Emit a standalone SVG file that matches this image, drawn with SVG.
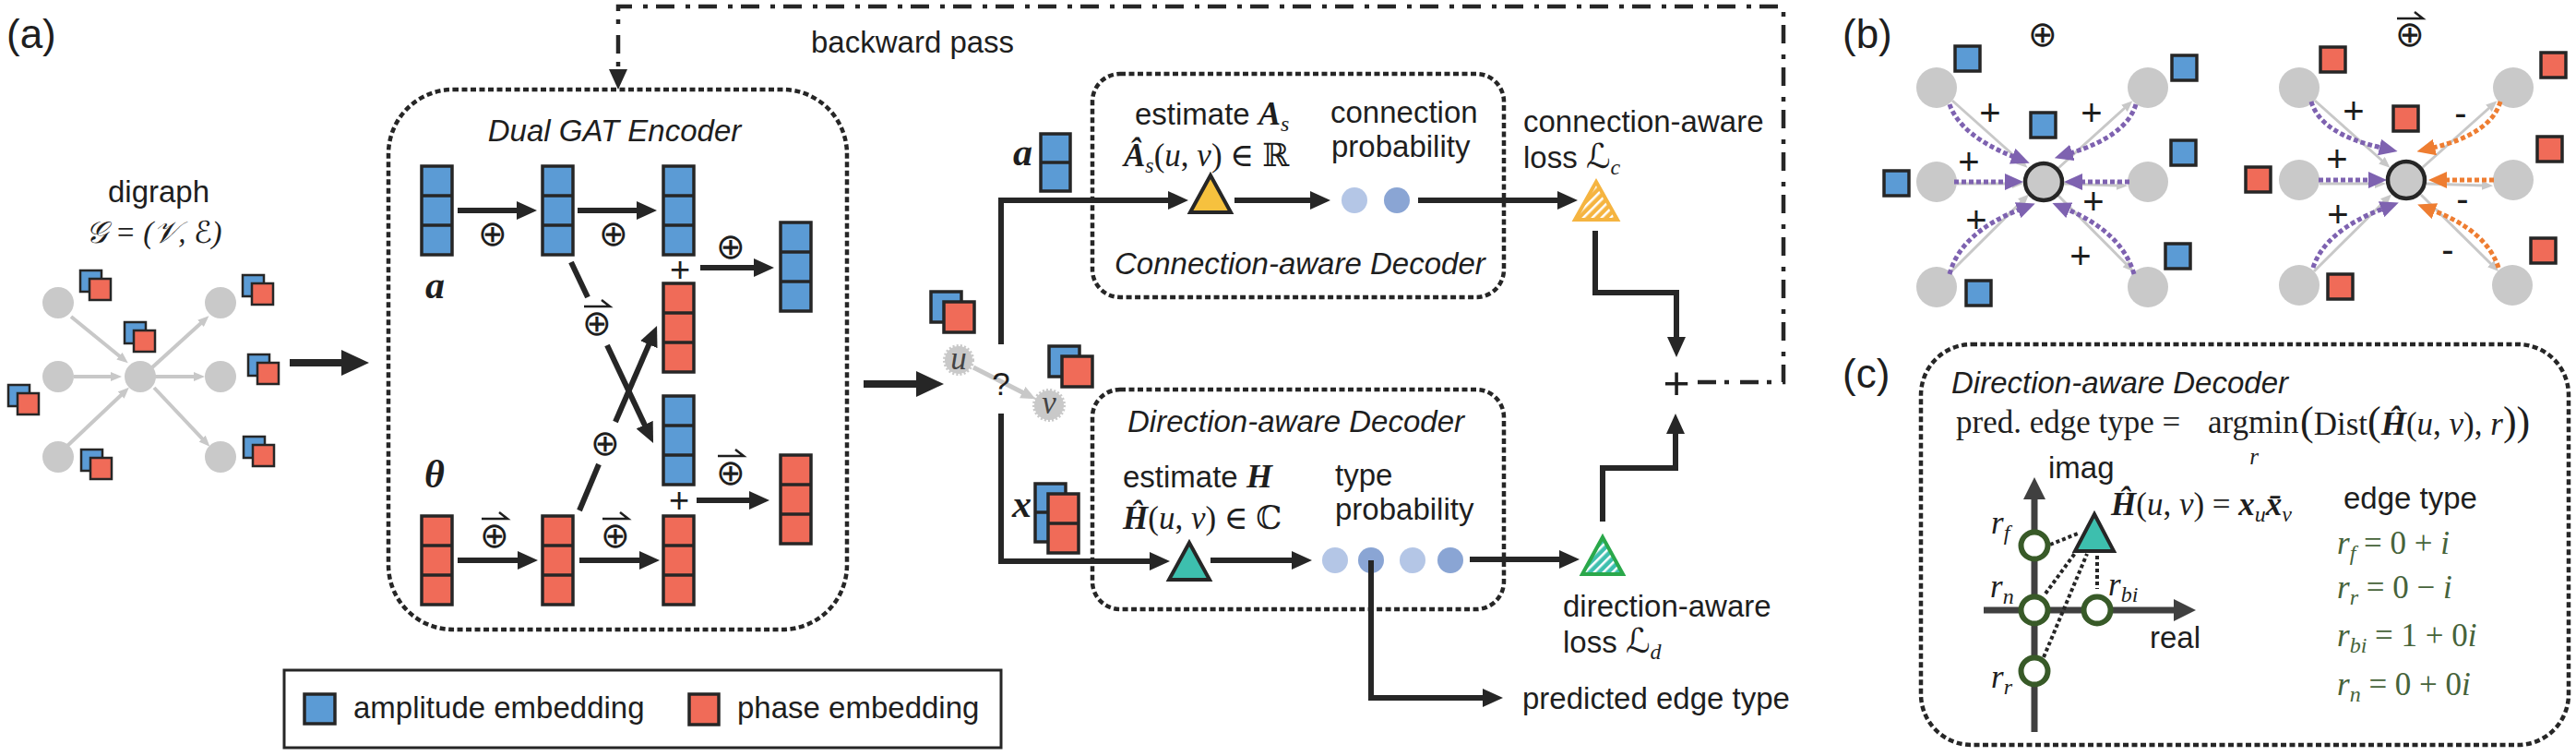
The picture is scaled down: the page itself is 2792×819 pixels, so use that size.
<svg xmlns="http://www.w3.org/2000/svg" xmlns:xlink="http://www.w3.org/1999/xlink" width="2792" height="819" viewBox="0 0 2792 819">
<defs>
<style>
.t{font-family:"Liberation Sans",Arial,sans-serif;font-size:33px;fill:#1e1e1e}
.ti{font-family:"Liberation Sans",Arial,sans-serif;font-size:33px;font-style:italic;fill:#1e1e1e}
.m{font-family:"Liberation Serif","DejaVu Serif","DejaVu Sans",serif;font-size:35px;fill:#1e1e1e}
.mi{font-style:italic}
.mb{font-weight:bold;font-style:italic}
.sub{font-size:24px}
.lab{font-family:"Liberation Sans",Arial,sans-serif;font-size:44px;fill:#1e1e1e}
.op{font-family:"DejaVu Sans",sans-serif;font-size:38px;fill:#1e1e1e}
.pl{font-family:"Liberation Sans",Arial,sans-serif;font-size:40px;fill:#1e1e1e;text-anchor:middle}
.grn{fill:#46633a}
.amp{fill:#5b9bd5;stroke:#262626;stroke-width:3.5}
.pha{fill:#f06b58;stroke:#262626;stroke-width:3.5}
.ampS{fill:#5b9bd5;stroke:#262626;stroke-width:2.5}
.phaS{fill:#f06b58;stroke:#262626;stroke-width:2.5}
.div{stroke:#262626;stroke-width:3.5}
.box{fill:none;stroke:#262626;stroke-width:4.5;stroke-dasharray:6 3.5}
.conn{fill:none;stroke:#262626;stroke-width:6}
.big{fill:none;stroke:#262626;stroke-width:8}
.arr{fill:none;stroke:#1e1e1e;stroke-width:2.5}
.gnode{fill:#c9c9c9}
.cnode{fill:#c9c9c9;stroke:#262626;stroke-width:4.5}
.gedge{fill:none;stroke:#c8c8c8;stroke-width:4}
.gedge3{fill:none;stroke:#c8c8c8;stroke-width:3}
.pur{fill:none;stroke:#7e62b0;stroke-width:5;stroke-dasharray:5 3}
.ora{fill:none;stroke:#ee7d31;stroke-width:5;stroke-dasharray:5 3}
.ring{fill:#fff;stroke:#385a28;stroke-width:6}
.dot{fill:none;stroke:#262626;stroke-width:4;stroke-dasharray:4 3}
.axis{fill:none;stroke:#404040;stroke-width:7}
</style>
<marker id="ah" viewBox="0 0 22 20" refX="2" refY="10" markerWidth="22" markerHeight="20" markerUnits="userSpaceOnUse" orient="auto"><path d="M0,0 L22,10 L0,20 z" fill="#262626"/></marker>
<marker id="ahb" viewBox="0 0 30 28" refX="2" refY="14" markerWidth="30" markerHeight="28" markerUnits="userSpaceOnUse" orient="auto"><path d="M0,0 L30,14 L0,28 z" fill="#262626"/></marker>
<marker id="ahg" viewBox="0 0 12 10" refX="2" refY="5" markerWidth="12" markerHeight="10" markerUnits="userSpaceOnUse" orient="auto"><path d="M0,0 L12,5 L0,10 z" fill="#c8c8c8"/></marker>
<marker id="ahg2" viewBox="0 0 16 14" refX="2" refY="7" markerWidth="16" markerHeight="14" markerUnits="userSpaceOnUse" orient="auto"><path d="M0,0 L16,7 L0,14 z" fill="#c8c8c8"/></marker>
<marker id="ahp" viewBox="0 0 20 18" refX="2" refY="9" markerWidth="20" markerHeight="18" markerUnits="userSpaceOnUse" orient="auto"><path d="M0,0 L20,9 L0,18 z" fill="#7e62b0"/></marker>
<marker id="aho" viewBox="0 0 20 18" refX="2" refY="9" markerWidth="20" markerHeight="18" markerUnits="userSpaceOnUse" orient="auto"><path d="M0,0 L20,9 L0,18 z" fill="#ee7d31"/></marker>
<marker id="ahax" viewBox="0 0 24 24" refX="2" refY="12" markerWidth="24" markerHeight="24" markerUnits="userSpaceOnUse" orient="auto"><path d="M0,0 L24,12 L0,24 z" fill="#404040"/></marker>
<pattern id="hy" patternUnits="userSpaceOnUse" width="7" height="7" patternTransform="rotate(45)"><rect width="7" height="7" fill="#f5b440"/><rect width="2.5" height="7" fill="#fff"/></pattern>
<pattern id="hg" patternUnits="userSpaceOnUse" width="7" height="7" patternTransform="rotate(45)"><rect width="7" height="7" fill="#3dbfae"/><rect width="2.5" height="7" fill="#fff"/></pattern>
<g id="colA"><rect x="0" y="0" width="33" height="96" class="amp"/><line x1="0" y1="32" x2="33" y2="32" class="div"/><line x1="0" y1="64" x2="33" y2="64" class="div"/></g>
<g id="colP"><rect x="0" y="0" width="33" height="96" class="pha"/><line x1="0" y1="32" x2="33" y2="32" class="div"/><line x1="0" y1="64" x2="33" y2="64" class="div"/></g>
<g id="pairS"><rect x="0" y="0" width="23" height="23" class="ampS"/><rect x="10" y="9" width="23" height="23" class="phaS"/></g>
<g id="pairB"><rect x="0" y="0" width="33" height="33" class="amp"/><rect x="14" y="11" width="33" height="33" class="pha"/></g>
<rect id="sqA" x="0" y="0" width="27" height="27" class="amp"/>
<rect id="sqP" x="0" y="0" width="27" height="27" class="pha"/>
</defs>

<rect width="2792" height="819" fill="#fff"/>

<!-- panel labels -->
<text class="lab" x="7" y="52">(a)</text>
<text class="lab" x="1997" y="52">(b)</text>
<text class="lab" x="1997" y="420">(c)</text>

<!-- ===== (a) input digraph ===== -->
<g id="digraph">
<text class="t" x="172" y="219" text-anchor="middle">digraph</text>
<text class="m mi" x="167" y="263" text-anchor="middle" style="font-size:33px">𝒢 = (𝒱, ℰ)</text>
<g>
<path class="gedge" d="M77,343 L131,387" marker-end="url(#ahg)"/>
<path class="gedge" d="M80,408 L122,408" marker-end="url(#ahg)"/>
<path class="gedge" d="M73,483 L132.6,426.7" marker-end="url(#ahg)"/>
<path class="gedge" d="M165,398 L219,349" marker-end="url(#ahg)"/>
<path class="gedge" d="M168,408 L212,408" marker-end="url(#ahg)"/>
<path class="gedge" d="M167,420 L220.5,476.6" marker-end="url(#ahg)"/>
</g>
<circle class="gnode" cx="63" cy="328" r="17"/>
<circle class="gnode" cx="63" cy="408" r="17"/>
<circle class="gnode" cx="63" cy="495" r="17"/>
<circle class="gnode" cx="152" cy="408" r="17"/>
<circle class="gnode" cx="239" cy="328" r="17"/>
<circle class="gnode" cx="239" cy="408" r="17"/>
<circle class="gnode" cx="239" cy="495" r="17"/>
<use xlink:href="#pairS" x="87" y="293"/>
<use xlink:href="#pairS" x="135" y="349"/>
<use xlink:href="#pairS" x="9" y="417"/>
<use xlink:href="#pairS" x="88" y="487"/>
<use xlink:href="#pairS" x="263" y="298"/>
<use xlink:href="#pairS" x="269" y="384"/>
<use xlink:href="#pairS" x="264" y="473"/>
</g>

<!-- ===== encoder ===== -->
<g id="encoder">
<rect class="box" x="421" y="97" width="497" height="585" rx="70" ry="70"/>
<text class="ti" x="666" y="153" text-anchor="middle">Dual GAT Encoder</text>
<use xlink:href="#colA" x="457" y="180"/>
<use xlink:href="#colA" x="588" y="180"/>
<use xlink:href="#colA" x="719" y="180"/>
<use xlink:href="#colA" x="846" y="241"/>
<use xlink:href="#colP" x="719" y="307"/>
<use xlink:href="#colA" x="719" y="429"/>
<use xlink:href="#colP" x="457" y="559"/>
<use xlink:href="#colP" x="588" y="559"/>
<use xlink:href="#colP" x="719" y="559"/>
<use xlink:href="#colP" x="846" y="493"/>
<text class="m mb" x="461" y="323" style="font-size:42px">a</text>
<text class="m mb" x="460" y="528" style="font-size:42px">θ</text>
<text class="pl" x="737" y="305" style="font-size:38px">+</text>
<text class="pl" x="736" y="555" style="font-size:38px">+</text>
<text class="op" x="534" y="266" text-anchor="middle">⊕</text>
<text class="op" x="665" y="266" text-anchor="middle">⊕</text>
<text class="op" x="792" y="280" text-anchor="middle">⊕</text>
<text class="op" x="656" y="493" text-anchor="middle">⊕</text>
<text class="op" x="647" y="363" text-anchor="middle">⊕</text>
<path class="arr" d="M633,332 H661 L652,325"/>
<text class="op" x="536" y="593" text-anchor="middle">⊕</text>
<path class="arr" d="M522,562 H550 L541,555"/>
<text class="op" x="667" y="593" text-anchor="middle">⊕</text>
<path class="arr" d="M653,562 H681 L672,555"/>
<text class="op" x="792" y="525" text-anchor="middle">⊕</text>
<path class="arr" d="M778,494 H806 L797,487"/>
</g>

<!-- ===== connection-aware decoder ===== -->
<g id="conn-decoder">
<rect class="box" x="1184" y="80" width="446" height="242" rx="30" ry="30"/>
<text class="t" x="1230" y="135">estimate <tspan class="m mb" style="font-size:36px">A</tspan><tspan class="m mi sub" dy="7">s</tspan></text>
<text class="m" x="1218" y="180"><tspan class="mb">Â</tspan><tspan class="mi sub" dy="7">s</tspan><tspan dy="-7">(</tspan><tspan class="mi">u</tspan>, <tspan class="mi">v</tspan>) ∈ ℝ</text>
<path d="M1312,190 L1334,230 L1290,230 z" fill="#f6c13e" stroke="#262626" stroke-width="4"/>
<text class="t" x="1442" y="133">connection</text>
<text class="t" x="1443" y="170">probability</text>
<circle cx="1468" cy="217" r="14" fill="#b4c6e6"/>
<circle cx="1514" cy="217" r="14" fill="#8aa5d4"/>
<text class="ti" x="1208" y="297">Connection-aware Decoder</text>
</g>

<!-- ===== direction-aware decoder ===== -->
<g id="dir-decoder">
<rect class="box" x="1184" y="422" width="446" height="238" rx="30" ry="30"/>
<text class="ti" x="1222" y="468">Direction-aware Decoder</text>
<text class="t" x="1217" y="528">estimate <tspan class="m mb" style="font-size:36px">H</tspan></text>
<text class="m" x="1217" y="573"><tspan class="mb">Ĥ</tspan>(<tspan class="mi">u</tspan>, <tspan class="mi">v</tspan>) ∈ ℂ</text>
<path d="M1289,588 L1311,628 L1267,628 z" fill="#3dbfae" stroke="#262626" stroke-width="4"/>
<text class="t" x="1447" y="526">type</text>
<text class="t" x="1447" y="563">probability</text>
<circle cx="1447" cy="607" r="14" fill="#b4c6e6"/>
<circle cx="1486" cy="607" r="14" fill="#8aa5d4"/>
<circle cx="1531" cy="607" r="14" fill="#b4c6e6"/>
<circle cx="1572" cy="607" r="14" fill="#8aa5d4"/>
</g>

<!-- ===== u, v candidate edge ===== -->
<g id="uv">
<path d="M1055,398 L1110,426" fill="none" stroke="#c8c8c8" stroke-width="5" marker-end="url(#ahg2)"/>
<circle cx="1039" cy="390" r="15" fill="#c9c9c9" stroke="#c9c9c9" stroke-width="4" stroke-dasharray="2 2"/>
<circle cx="1137" cy="439" r="16" fill="#c9c9c9" stroke="#c9c9c9" stroke-width="4" stroke-dasharray="2 2"/>
<text class="m mi" x="1039" y="400" text-anchor="middle" style="fill:#444">u</text>
<text class="m mi" x="1137" y="448" text-anchor="middle" style="fill:#444">v</text>
<text class="t" x="1085" y="428" text-anchor="middle" style="font-size:35px">?</text>
<use xlink:href="#pairB" x="1009" y="316"/>
<use xlink:href="#pairB" x="1137" y="375"/>
</g>

<!-- inputs to decoders -->
<g id="dec-inputs">
<text class="m mb" x="1098" y="179" style="font-size:42px">a</text>
<rect x="1128" y="145" width="32" height="62" class="amp"/>
<line x1="1128" y1="176" x2="1160" y2="176" class="div"/>
<text class="m mb" x="1097" y="560" style="font-size:42px">x</text>
<rect x="1122" y="524" width="33" height="63" class="amp"/>
<line x1="1122" y1="555" x2="1155" y2="555" class="div"/>
<rect x="1136" y="535" width="33" height="64" class="pha"/>
<line x1="1136" y1="567" x2="1169" y2="567" class="div"/>
</g>

<!-- losses -->
<g id="loss-c">
<path d="M1730,197 L1753,238 L1707,238 z" fill="url(#hy)" stroke="#f5b440" stroke-width="4"/>
<text class="t" x="1651" y="143">connection-aware</text>
<text class="t" x="1651" y="182">loss <tspan class="m mi" style="font-size:37px">ℒ</tspan><tspan class="m mi sub" dy="7">c</tspan></text>
</g>
<g id="loss-d">
<path d="M1737,582 L1759,622 L1715,622 z" fill="url(#hg)" stroke="#2aa84a" stroke-width="4"/>
<text class="t" x="1694" y="668">direction-aware</text>
<text class="t" x="1694" y="707">loss <tspan class="m mi" style="font-size:37px">ℒ</tspan><tspan class="m mi sub" dy="7">d</tspan></text>
</g>
<g id="sum"><text class="t" x="1817" y="432" text-anchor="middle" style="font-size:50px">+</text></g>
<g id="predicted"><text class="t" x="1650" y="768">predicted edge type</text></g>
<g id="backward-label"><text class="t" x="879" y="57">backward pass</text></g>

<!-- legend -->
<g id="legend">
<rect x="308" y="726" width="777" height="84" fill="none" stroke="#262626" stroke-width="3"/>
<rect x="330" y="752" width="33" height="32" class="amp"/>
<text class="t" x="383" y="778">amplitude embedding</text>
<rect x="747" y="752" width="32" height="33" class="pha"/>
<text class="t" x="799" y="778">phase embedding</text>
</g>

<!-- ===== connectors (a) ===== -->
<g id="connectors">
<path class="big" d="M314,393 H372" marker-end="url(#ahb)"/>
<path class="big" d="M936,416 H995" marker-end="url(#ahb)"/>
<path class="conn" d="M496,228 H562" marker-end="url(#ah)"/>
<path class="conn" d="M626,228 H692" marker-end="url(#ah)"/>
<path class="conn" d="M759,290 H819" marker-end="url(#ah)"/>
<path class="conn" d="M496,607 H563" marker-end="url(#ah)"/>
<path class="conn" d="M628,607 H695" marker-end="url(#ah)"/>
<path class="conn" d="M755,542 H814" marker-end="url(#ah)"/>
<path class="conn" d="M619,284 L637,322"/>
<path class="conn" d="M658,374 L699.5,461.9" marker-end="url(#ah)"/>
<path class="conn" d="M628,553 L649,503"/>
<path class="conn" d="M667,457 L704.1,371.4" marker-end="url(#ah)"/>
<path class="conn" d="M1085,373 V217 H1268" marker-end="url(#ah)"/>
<path class="conn" d="M1085,448 V608 H1248" marker-end="url(#ah)"/>
<path class="conn" d="M1338,217 H1422" marker-end="url(#ah)"/>
<path class="conn" d="M1312,607 H1402" marker-end="url(#ah)"/>
<path class="conn" d="M1537,217 H1690" marker-end="url(#ah)"/>
<path class="conn" d="M1593,606 H1692" marker-end="url(#ah)"/>
<path class="conn" d="M1729,250 V317 H1817 V367" marker-end="url(#ah)"/>
<path class="conn" d="M1737,565 V507 H1816 V468" marker-end="url(#ah)"/>
<path class="conn" d="M1486,607 V756 H1609" marker-end="url(#ah)"/>
<path d="M1840,414 H1933 V7 H670 V77" fill="none" stroke="#262626" stroke-width="4.5" stroke-dasharray="20 9 5 12" marker-end="url(#ah)"/>
</g>

<!-- ===== (b) ===== -->
<g id="b-sum">
<text class="op" x="2214" y="50" text-anchor="middle">⊕</text>
<path class="gedge3" d="M2116,109 L2190,175" marker-end="url(#ahg)"/>
<path class="gedge3" d="M2121,199 L2183,199" marker-end="url(#ahg)"/>
<path class="gedge3" d="M2115,294 L2192,217.5" marker-end="url(#ahg)"/>
<path class="gedge3" d="M2231,182 L2304,116" marker-end="url(#ahg)"/>
<path class="gedge3" d="M2237,199 L2296,201" marker-end="url(#ahg)"/>
<path class="gedge3" d="M2230,211 L2305.6,287.2" marker-end="url(#ahg)"/>
<circle class="gnode" cx="2099" cy="95" r="22"/>
<circle class="gnode" cx="2099" cy="197" r="22"/>
<circle class="gnode" cx="2099" cy="311" r="22"/>
<circle class="gnode" cx="2328" cy="95" r="22"/>
<circle class="gnode" cx="2328" cy="197" r="22"/>
<circle class="gnode" cx="2328" cy="311" r="22"/>
<path class="pur" d="M2113,113 Q2125,147 2183,170" marker-end="url(#ahp)"/>
<path class="pur" d="M2118,197 H2175" marker-end="url(#ahp)"/>
<path class="pur" d="M2113,297 Q2125,252 2189,227" marker-end="url(#ahp)"/>
<path class="pur" d="M2315,113 Q2305,147 2244,166" marker-end="url(#ahp)"/>
<path class="pur" d="M2308,197 H2255" marker-end="url(#ahp)"/>
<path class="pur" d="M2313,297 Q2300,252 2241,227" marker-end="url(#ahp)"/>
<circle class="cnode" cx="2215" cy="197" r="20"/>
<use xlink:href="#sqA" x="2119" y="50"/>
<use xlink:href="#sqA" x="2201" y="122"/>
<use xlink:href="#sqA" x="2042" y="185"/>
<use xlink:href="#sqA" x="2131" y="304"/>
<use xlink:href="#sqA" x="2354" y="60"/>
<use xlink:href="#sqA" x="2353" y="152"/>
<use xlink:href="#sqA" x="2347" y="264"/>
<text class="pl" x="2157" y="136">+</text>
<text class="pl" x="2134" y="189">+</text>
<text class="pl" x="2142" y="252">+</text>
<text class="pl" x="2267" y="136">+</text>
<text class="pl" x="2269" y="232">+</text>
<text class="pl" x="2255" y="291">+</text>
</g>

<g id="b-dirsum">
<text class="op" x="2612" y="50" text-anchor="middle">⊕</text>
<path class="arr" d="M2598,20 H2626 L2617,13"/>
<path class="gedge3" d="M2509,109 L2583,175" marker-end="url(#ahg)"/>
<path class="gedge3" d="M2514,199 L2576,199" marker-end="url(#ahg)"/>
<path class="gedge3" d="M2508,294 L2585,217.5" marker-end="url(#ahg)"/>
<path class="gedge3" d="M2625,182 L2699,116" marker-end="url(#ahg)"/>
<path class="gedge3" d="M2630,199 L2692,201" marker-end="url(#ahg)"/>
<path class="gedge3" d="M2624,211 L2701,287" marker-end="url(#ahg)"/>
<circle class="gnode" cx="2492" cy="95" r="22"/>
<circle class="gnode" cx="2492" cy="195" r="22"/>
<circle class="gnode" cx="2492" cy="309" r="22"/>
<circle class="gnode" cx="2724" cy="95" r="22"/>
<circle class="gnode" cx="2724" cy="195" r="22"/>
<circle class="gnode" cx="2723" cy="309" r="22"/>
<path class="pur" d="M2505,110 Q2515,145 2581,160" marker-end="url(#ahp)"/>
<path class="pur" d="M2513,195 H2569" marker-end="url(#ahp)"/>
<path class="pur" d="M2507,290 Q2520,250 2583,226" marker-end="url(#ahp)"/>
<path class="ora" d="M2710,110 Q2700,145 2637,160" marker-end="url(#aho)"/>
<path class="ora" d="M2703,195 H2650" marker-end="url(#aho)"/>
<path class="ora" d="M2708,290 Q2695,250 2637,228" marker-end="url(#aho)"/>
<circle class="cnode" cx="2608" cy="195" r="20"/>
<use xlink:href="#sqP" x="2515" y="51"/>
<use xlink:href="#sqP" x="2594" y="115"/>
<use xlink:href="#sqP" x="2434" y="181"/>
<use xlink:href="#sqP" x="2523" y="297"/>
<use xlink:href="#sqP" x="2754" y="57"/>
<use xlink:href="#sqP" x="2750" y="148"/>
<use xlink:href="#sqP" x="2743" y="258"/>
<text class="pl" x="2551" y="134">+</text>
<text class="pl" x="2533" y="186">+</text>
<text class="pl" x="2534" y="246">+</text>
<text class="pl" x="2667" y="136">-</text>
<text class="pl" x="2669" y="229">-</text>
<text class="pl" x="2653" y="284">-</text>
</g>

<!-- ===== (c) ===== -->
<g id="c-decoder">
<rect class="box" x="2082" y="373" width="702" height="434" rx="55" ry="55"/>
<text class="ti" x="2115" y="426">Direction-aware Decoder</text>
<text class="m" x="2120" y="469">pred. edge type =</text>
<text class="m" x="2393" y="469">argmin</text>
<text class="m mi" x="2443" y="503" text-anchor="middle" style="font-size:25px">r</text>
<text class="m" x="2493" y="471"><tspan style="font-size:44px">(</tspan>Dist<tspan style="font-size:44px">(</tspan><tspan class="mb">Ĥ</tspan>(<tspan class="mi">u</tspan>, <tspan class="mi">v</tspan>), <tspan class="mi">r</tspan><tspan style="font-size:44px">))</tspan></text>
<text class="t" x="2220" y="518">imag</text>
<text class="t" x="2330" y="702">real</text>
<path class="axis" d="M2205,793 V539" marker-end="url(#ahax)"/>
<path class="axis" d="M2150,661 H2358" marker-end="url(#ahax)"/>
<path class="dot" d="M2222,590 L2252,578"/>
<path class="dot" d="M2217,643 L2250,598"/>
<path class="dot" d="M2215,712 L2262,600"/>
<path class="dot" d="M2273,602 L2273,638"/>
<circle class="ring" cx="2205" cy="591" r="14.5"/>
<circle class="ring" cx="2205" cy="661" r="14.5"/>
<circle class="ring" cx="2273" cy="661" r="14.5"/>
<circle class="ring" cx="2205" cy="727" r="14.5"/>
<path d="M2270,557 L2291,597 L2249,597 z" fill="#3dbfae" stroke="#262626" stroke-width="4"/>
<text class="m mi" x="2158" y="578">r<tspan class="sub" dy="7">f</tspan></text>
<text class="m mi" x="2157" y="647">r<tspan class="sub" dy="7">n</tspan></text>
<text class="m mi" x="2285" y="645">r<tspan class="sub" dy="7">bi</tspan></text>
<text class="m mi" x="2158" y="745">r<tspan class="sub" dy="7">r</tspan></text>
<text class="m" x="2288" y="558"><tspan class="mb">Ĥ</tspan>(<tspan class="mi">u</tspan>, <tspan class="mi">v</tspan>) = <tspan class="mb">x</tspan><tspan class="mi sub" dy="7">u</tspan><tspan class="mb" dy="-7">x̄</tspan><tspan class="mi sub" dy="7">v</tspan></text>
<text class="t" x="2540" y="551">edge type</text>
<text class="m grn" x="2533" y="600"><tspan class="mi">r</tspan><tspan class="mi sub" dy="7">f</tspan><tspan dy="-7"> = 0 + </tspan><tspan class="mi">i</tspan></text>
<text class="m grn" x="2533" y="648"><tspan class="mi">r</tspan><tspan class="mi sub" dy="7">r</tspan><tspan dy="-7"> = 0 − </tspan><tspan class="mi">i</tspan></text>
<text class="m grn" x="2533" y="700"><tspan class="mi">r</tspan><tspan class="mi sub" dy="7">bi</tspan><tspan dy="-7"> = 1 + 0</tspan><tspan class="mi">i</tspan></text>
<text class="m grn" x="2533" y="753"><tspan class="mi">r</tspan><tspan class="mi sub" dy="7">n</tspan><tspan dy="-7"> = 0 + 0</tspan><tspan class="mi">i</tspan></text>
</g>
</svg>
